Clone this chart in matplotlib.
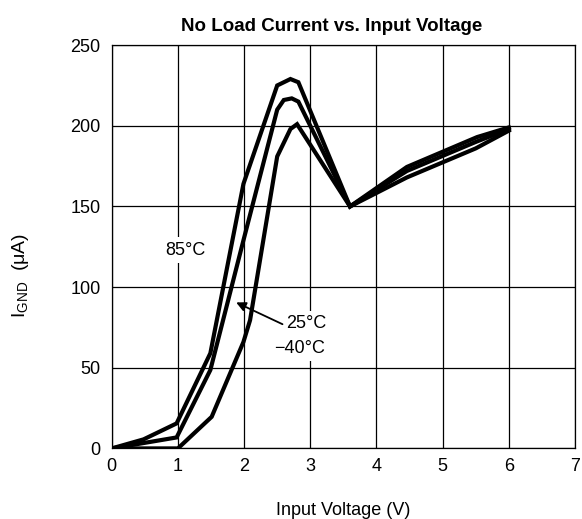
import matplotlib
matplotlib.use("Agg")
import matplotlib.pyplot as plt

plt.rcParams['font.family'] = ['Liberation Sans', 'DejaVu Sans']
plt.rcParams['mathtext.fontset'] = 'custom'
plt.rcParams['mathtext.rm'] = 'Liberation Sans'
plt.rcParams['mathtext.it'] = 'Liberation Sans:italic'

# Ground current (uA) vs input voltage (V) at three temperatures
v_85 = [0, 0.48, 0.98, 1.49, 1.99, 2.50, 2.70, 2.82, 3.6, 4.46, 5.52, 6.0]
i_85 = [0, 5.6, 15.5, 59, 164, 225, 229, 227, 150, 174.5, 193, 199]

v_25 = [0, 0.98, 1.49, 1.99, 2.50, 2.60, 2.72, 2.82, 3.6, 4.46, 5.5, 6.0]
i_25 = [0, 6.8, 48.6, 129, 210, 216, 217, 215, 150, 172, 190, 198]

v_m40 = [0, 1.0, 1.51, 1.99, 2.09, 2.50, 2.70, 2.80, 3.6, 4.46, 5.5, 6.0]
i_m40 = [0, 0, 19.6, 66, 79.5, 181, 198, 201, 150, 168, 186, 197]

xticks = [0, 1, 2, 3, 4, 5, 6, 7]
yticks = [0, 50, 100, 150, 200, 250]

fig = plt.figure(figsize=(5.82, 5.19), dpi=100)
ax = fig.add_axes([0.192, 0.136, 0.796, 0.777])

for v, i in [(v_85, i_85), (v_25, i_25), (v_m40, i_m40)]:
    ax.plot(v, i, color='black', lw=3.0, solid_joinstyle='miter', zorder=3)

ax.set_xlim(0, 7)
ax.set_ylim(0, 250)
ax.set_xticks(xticks)
ax.set_yticks(yticks)
ax.grid(True, color='black', lw=0.9)
ax.tick_params(axis='x', length=0, pad=7, labelsize=13)
ax.tick_params(axis='y', length=0, pad=8, labelsize=13)
for s in ax.spines.values():
    s.set_linewidth(0.9)

ax.set_title('No Load Current vs. Input Voltage', fontsize=13.5, fontweight='bold',
             pad=10, x=0.474)
ax.set_xlabel('Input Voltage (V)', fontsize=13, labelpad=19)
ax.set_ylabel('I$_{\\mathrm{GND}}$  (μA)', fontsize=14)
ax.yaxis.set_label_coords(-0.175, 0.43)

box = dict(facecolor='white', edgecolor='none', pad=3)
ax.text(1.11, 123, '85°C', fontsize=13, ha='center', va='center', bbox=box, zorder=4)
ax.annotate('', xy=(1.88, 90.5), xytext=(2.58, 77),
            arrowprops=dict(arrowstyle='-|>', color='black', lw=1.3,
                            mutation_scale=14, shrinkA=0, shrinkB=0), zorder=5)
ax.text(2.94, 77.5, '25°C', fontsize=13, ha='center', va='center', bbox=box, zorder=4)
ax.text(2.84, 62, '\u221240°C', fontsize=13, ha='center', va='center', bbox=box, zorder=4)

fig.savefig('out.png', dpi=100)
